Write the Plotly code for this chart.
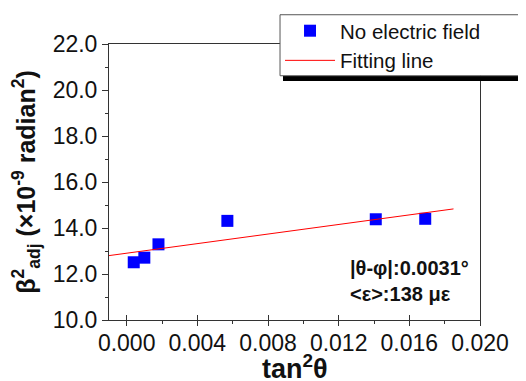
import plotly.graph_objects as go

# Data
x_pts = [0.0004, 0.0010, 0.0018, 0.0057, 0.0141, 0.0169]
y_pts = [12.51, 12.71, 13.29, 14.31, 14.38, 14.40]
fit_x = [-0.001, 0.0185]
fit_y = [12.80, 14.83]

x_ticks = [0.000, 0.004, 0.008, 0.012, 0.016, 0.020]
y_ticks = [10.0, 12.0, 14.0, 16.0, 18.0, 20.0, 22.0]

FONT = "Arial, Liberation Sans, sans-serif"

fig = go.Figure()
fig.add_trace(go.Scatter(
    x=x_pts, y=y_pts, mode="markers", name="No electric field",
    marker=dict(symbol="square", size=12, color="#0000FF", line=dict(width=0)),
))
fig.add_trace(go.Scatter(
    x=fit_x, y=fit_y, mode="lines", name="Fitting line",
    line=dict(color="#FF0000", width=1),
))
# invisible trace for inner ticks on x axis
fig.add_trace(go.Scatter(x=[None], y=[None], xaxis="x2", showlegend=False, hoverinfo="skip"))

axis_common = dict(
    showgrid=False, zeroline=False, showline=True, linecolor="#333333", linewidth=1,
    ticks="outside", tickcolor="#333333", tickwidth=1, automargin=False,
    tickfont=dict(family=FONT, size=23, color="#111111"),
)

fig.update_layout(
    width=526, height=381,
    margin=dict(l=101, r=54, t=36, b=69, autoexpand=False),
    paper_bgcolor="white", plot_bgcolor="white",
    font=dict(family=FONT, color="#111111"),
    xaxis=dict(
        **axis_common,
        range=[-0.001, 0.020], tickvals=x_ticks, tickformat=".3f", ticklen=5,
        mirror=True, ticklabelstandoff=-3,
        minor=dict(dtick=0.002, tick0=0, ticks="outside", ticklen=3, tickcolor="#333333"),
    ),
    xaxis2=dict(
        overlaying="x", matches="x", side="bottom", anchor="y", automargin=False,
        showgrid=False, zeroline=False, showline=False, showticklabels=False,
        ticks="inside", ticklen=5, tickcolor="#333333", tickvals=x_ticks,
        range=[-0.001, 0.020],
    ),
    yaxis=dict(
        **axis_common,
        range=[10, 22], tickvals=y_ticks, tickformat=".1f", ticklen=6,
        mirror=True,
        minor=dict(dtick=1, tick0=10, ticks="outside", ticklen=3, tickcolor="#333333"),
        title=dict(text="<b>β<sup>2</sup><sub>adj</sub> (×10<sup>-9</sup> radian<sup>2</sup>)</b>",
                   font=dict(family=FONT, size=25, color="#111111"), standoff=10),
    ),
    legend=dict(
        x=0.461, y=1.120, xanchor="left", yanchor="top",
        bgcolor="rgba(0,0,0,0)", borderwidth=0,
        font=dict(family=FONT, size=20.5, color="#111111"),
        itemwidth=50, tracegroupgap=0,
    ),
    showlegend=True,
)

# legend frame (white box with grey border) and its black drop shadow
fig.add_shape(type="rect", xref="paper", yref="paper",
              x0=0.469, x1=1.135, y0=0.866, y1=0.885,
              fillcolor="black", line=dict(width=0), layer="above")
fig.add_shape(type="rect", xref="paper", yref="paper",
              x0=0.461, x1=1.116, y0=0.885, y1=1.106,
              fillcolor="white", line=dict(color="#555555", width=1), layer="above")

# x axis title
fig.add_annotation(
    xref="paper", yref="paper", x=0.501, y=-0.239, xanchor="center", yanchor="bottom",
    text="<b>tan<sup>2</sup>θ</b>", showarrow=False,
    font=dict(family=FONT, size=27, color="#111111"),
)

fig.add_annotation(
    xref="paper", yref="paper", x=0.645, y=0.1395, xanchor="left", yanchor="middle",
    text="<b>|θ-φ|:0.0031°</b><br><b>&lt;ε&gt;:138 με</b>",
    showarrow=False, align="left",
    font=dict(family=FONT, size=20, color="#111111"),
)

fig.write_html("out.html")
